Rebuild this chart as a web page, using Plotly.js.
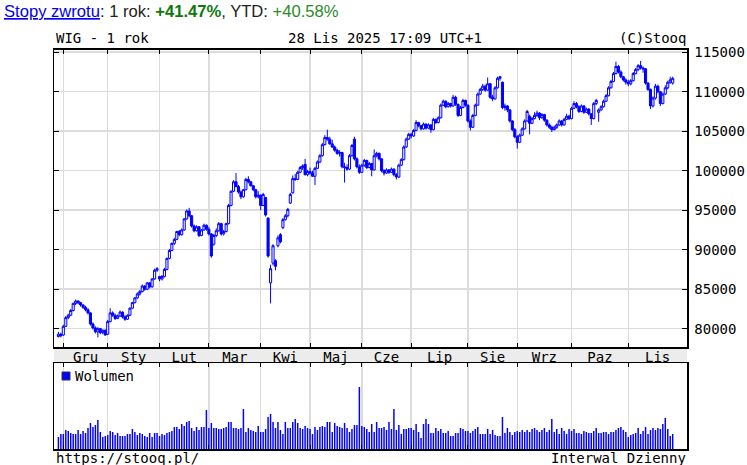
<!DOCTYPE html>
<html><head><meta charset="utf-8">
<script src="https://cdn.plot.ly/plotly-3.0.1.min.js"></script>
<style>html,body{margin:0;padding:0;background:#fff;}#chart{width:747px;height:465px;}</style>
</head><body><div id="chart"></div>
<script>
const monthLabels = ['Gru','Sty','Lut','Mar','Kwi','Maj','Cze','Lip','Sie','Wrz','Paz','Lis'];
const monthStartIdx = [2,20,41,61,82,102,123,143,166,186,208,231];
const priceTicks = [80000,85000,90000,95000,100000,105000,110000,115000];

const open = [
79000,79300,79200,80300,81400,81700,82300,83200,83500,83300,
83000,82700,82400,82000,80600,80100,79600,80000,79500,79800,
79300,80900,82000,81700,81300,81600,82100,81500,81200,81700,
82600,83300,83900,84400,84700,85400,85000,85800,85300,86300,
87400,86600,86300,86600,87500,88900,89900,90800,91300,92300,
91900,92500,93900,94900,94300,93000,92400,92900,91800,92500,
93100,92600,92000,90700,91800,92400,93300,92000,92300,93300,
95600,97400,98600,98000,97300,96700,97600,98900,98600,98100,
97600,96700,96900,95600,96600,94000,85800,88300,88600,90500,
91900,92800,93800,94300,95900,97200,99000,98900,99800,100400,
100800,99500,99900,99700,99300,100300,101100,101900,103300,104200,
104000,103400,103000,102600,102200,102300,100500,100400,100200,101900,
104000,101500,100500,99800,100700,101300,100400,100900,100100,101900,
102200,101500,100000,99700,100100,99800,100200,99500,99200,100700,
101400,103000,104000,104600,104400,105100,106100,105700,105300,105900,
105400,105800,105200,106500,106100,106700,108300,108800,108100,108500,
108200,109300,108400,107000,108000,108900,108300,106300,105500,107000,
108300,109700,110300,110700,110200,111000,109300,109100,110500,111700,
111200,108000,108200,107700,106300,105200,104300,103600,104500,105300,
106300,106900,106000,106600,107000,107300,106700,107100,106400,105800,
105500,105200,105500,105800,106300,105800,106500,106900,106600,107900,
108500,108100,107500,108200,107400,107800,107200,106600,108500,107400,
107700,108100,108800,109500,110500,111300,112300,113200,112500,111900,
111500,111200,111000,111400,112300,112800,113300,113000,112900,111100,
110300,108200,109200,110700,110000,108500,109700,110500,111200,111100];

const high = [
79600,79500,80500,81600,81900,82500,83300,83700,83600,83400,
83100,82900,82600,82100,80800,80300,80200,80100,79900,79900,
81100,82600,82200,81900,81800,82300,82200,81700,81800,82700,
83400,84000,84600,84900,85600,85500,85900,85900,86400,87600,
87800,86700,86800,87700,89000,90100,90900,91500,92400,92500,
92700,94000,95100,95300,94400,93200,93100,93000,92600,93300,
93200,92900,92100,92000,92700,93500,93400,92500,93400,95800,
97500,98800,99700,98200,97500,97700,99100,99300,98700,98200,
97700,97400,97000,97200,96700,94100,88100,90700,88800,91800,
92100,94000,94500,95300,97200,99400,99600,100000,100600,100800,
101500,100100,100400,100000,100500,101300,102100,103500,104500,105200,
104300,103900,103200,102800,102600,102400,101000,100800,102100,103400,
104300,101700,100800,100900,101500,101400,101100,101000,102700,102400,
102300,101600,100200,100300,100200,100400,100300,99700,100900,101600,
103200,104200,104800,104800,105300,106400,106200,105800,106100,106000,
106000,105900,106700,106600,106900,108500,109000,108900,108700,108600,
109600,109500,108500,108200,109100,109000,108400,106500,107200,108500,
109900,110500,111000,110900,111800,111100,109600,110700,111900,112000,
111300,108500,108300,107800,106400,105400,104500,104700,105500,106500,
107700,107100,106800,107400,107600,107400,107300,107200,106500,106000,
105700,105700,106000,106500,106400,106700,107200,107100,108100,108800,
108700,108300,108400,108300,108000,107900,107300,108700,109100,107900,
108300,109000,109700,110700,111500,112500,113800,113400,112700,112000,
111700,111500,111600,112500,113000,113500,113900,113200,113000,111200,
110400,109400,111000,110900,110100,109900,110800,111400,111900,111900];

const low = [
78900,78900,79100,80200,81200,81600,82200,83000,83100,82800,
82500,82200,81800,80400,79900,79400,78900,79300,79300,79100,
79200,80800,81500,81100,81200,81500,81300,81000,81100,81600,
82500,83200,83800,84200,84600,84800,84900,85100,85200,86200,
87200,86000,86100,86500,87400,88800,89800,90600,91200,91700,
91800,92400,93800,94100,92800,92200,92300,91600,91700,92400,
92400,91800,89000,90500,91600,92300,91800,91800,92200,93200,
95500,97300,97900,97100,96400,96600,97500,98400,98000,97400,
96500,96500,95000,95500,94200,89000,83200,88000,87400,90300,
90800,92600,93700,94100,95800,97100,98700,98800,99700,100100,
99400,99300,99500,99200,98200,100200,101000,101800,103200,103800,
103300,102900,102400,102000,101800,100300,98500,100000,100100,101800,
101300,100300,99600,99700,100500,100200,100300,99300,100000,101700,
101300,99800,99400,99600,99600,99700,99300,98900,99100,100600,
101300,102900,103900,104100,104300,105000,105500,105100,105200,105200,
105300,104800,105100,105900,106000,106600,108200,107900,108000,108000,
108100,108200,106800,106900,107900,108100,106100,105100,105400,106900,
108200,109600,110100,110000,110100,109100,108800,109000,110400,111400,
107800,107600,107400,106100,105000,104100,102800,103500,104400,105200,
106200,104600,105900,106500,106800,106400,106600,106200,105600,105300,
104900,105100,105300,105700,105600,105700,106400,106400,106500,107800,
107900,107300,107400,107200,107300,107000,105800,106500,108300,106200,
107600,108000,108700,109400,110400,111200,112200,112300,111700,111300,
110900,110700,110800,111300,112200,112600,112800,112400,110900,110100,
107800,108000,109000,109800,108200,108400,109600,110300,111000,110900];

const close = [
79300,79100,80300,81400,81700,82300,83200,83500,83300,83000,
82700,82400,82000,80600,80100,79600,80000,79500,79800,79200,
80900,82000,81700,81300,81600,82100,81500,81200,81700,82600,
83300,83900,84400,84700,85400,85000,85800,85300,86300,87400,
87600,86300,86600,87500,88900,89900,90800,91300,92300,91900,
92500,93900,94900,94300,93000,92400,92900,91800,92500,93100,
92600,92000,89200,91800,92400,93300,92000,92300,93300,95600,
97400,98600,98000,97300,96700,97600,98900,98600,98100,97600,
96700,96900,95600,97000,94400,89200,87600,90500,87900,91500,
91000,93800,94300,95100,97000,99000,98900,99800,100400,100600,
99500,99900,99700,99300,100300,101100,101900,103300,104200,104000,
103400,103000,102600,102200,102300,100500,100400,100200,101900,103200,
101500,100500,99800,100700,101300,100400,100900,100100,101900,102200,
101500,100000,99700,100100,99800,100200,99500,99200,100700,101400,
103000,104000,104600,104400,105100,106100,105700,105300,105900,105400,
105800,105200,106500,106100,106700,108300,108800,108100,108500,108200,
109300,108400,107000,108000,108900,108300,106300,105500,107000,108300,
109700,110300,110700,110200,111000,109300,109100,110500,111700,111900,
108000,108200,107700,106300,105200,104300,103600,104500,105300,106300,
107500,106000,106600,107000,107300,106700,107100,106400,105800,105500,
105200,105500,105800,106300,105800,106500,106900,106600,107900,108500,
108100,107500,108200,107400,107800,107200,106600,108500,108900,107700,
108100,108800,109500,110500,111300,112300,113200,112500,111900,111500,
111200,111000,111400,112300,112800,113300,113000,112900,111100,110300,
108200,109200,110700,110000,108500,109700,110500,111200,111500,111700];

const volume = [
12,15,15,19,18,16,15,15,19,15,
18,16,21,26,22,24,29,17,12,13,
14,18,17,14,16,13,13,13,15,15,
20,17,14,16,15,13,12,16,12,16,
16,13,15,14,16,17,18,22,22,20,
25,23,27,28,21,18,22,19,22,22,
39,21,26,21,21,20,20,21,22,27,
27,21,21,20,21,40,17,21,19,18,
17,23,17,17,20,32,35,27,21,27,
19,15,27,21,21,27,30,26,21,20,
23,21,20,15,22,19,22,23,22,27,
27,17,26,23,22,21,26,21,17,20,
24,24,62,23,22,20,17,25,17,27,
21,21,22,19,27,20,40,19,24,15,
20,20,21,21,19,25,17,11,25,30,
25,16,16,21,18,20,16,16,18,13,
13,16,16,21,20,18,18,16,18,20,
22,15,15,15,20,15,19,14,13,13,
32,16,21,17,14,17,18,17,19,17,
19,17,20,21,19,17,19,21,17,19,
30,17,20,15,21,18,15,20,18,20,
16,16,15,18,17,16,16,18,21,16,
16,17,17,15,17,17,19,21,22,19,
17,12,14,15,16,21,15,18,22,15,
19,21,19,21,20,25,31,20,13,15];

const dayIdx = close.map((_, i) => i);

const W = 747, H = 465;
const px = v => v / W;
const py = v => 1 - v / H;
const xRange = [-1.78, 254.8];
const monthMid = monthStartIdx.map((s, k) =>
  (s + (k + 1 < monthStartIdx.length ? monthStartIdx[k + 1] : xRange[1])) / 2);

const MONO = 'DejaVu Sans Mono';
const BLUE = '#0000ff';
const GRID = '#dcdcdc';

const traces = [
  {
    type: 'candlestick', x: dayIdx, open: open, high: high, low: low, close: close,
    xaxis: 'x', yaxis: 'y', whiskerwidth: 0, showlegend: false, hoverinfo: 'skip',
    increasing: {line: {color: BLUE, width: 1}, fillcolor: '#ffffff'},
    decreasing: {line: {color: BLUE, width: 1}, fillcolor: BLUE}
  },
  {
    type: 'bar', x: dayIdx, y: volume, xaxis: 'x2', yaxis: 'y2', name: 'Wolumen',
    width: 0.6, marker: {color: BLUE, line: {width: 0}}, showlegend: false, hoverinfo: 'skip'
  },
  { type: 'scatter', x: [], y: [], xaxis: 'x3', yaxis: 'y', showlegend: false, hoverinfo: 'skip' }
];

const frame = {showline: true, linecolor: '#000', linewidth: 1.5, zeroline: false, fixedrange: true};

const layout = {
  width: W, height: H,
  margin: {l: 0, r: 0, t: 0, b: 0},
  paper_bgcolor: '#ffffff', plot_bgcolor: '#ffffff',
  showlegend: false,
  boxgap: 0.15, boxgroupgap: 0,
  xaxis: Object.assign({}, frame, {
    domain: [px(54), px(687)], anchor: 'y', range: xRange, type: 'linear',
    tickmode: 'array', tickvals: monthStartIdx, showticklabels: false,
    ticks: 'inside', ticklen: 4, tickwidth: 1, tickcolor: '#000', mirror: 'ticks',
    showgrid: true, gridcolor: GRID, gridwidth: 1.5,
    rangeslider: {visible: false}
  }),
  xaxis3: {
    overlaying: 'x', anchor: 'y', side: 'bottom', range: xRange, type: 'linear',
    tickmode: 'array', tickvals: monthMid, ticktext: monthLabels,
    ticks: '', showgrid: false, showline: false, zeroline: false, fixedrange: true,
    tickfont: {family: MONO, size: 14, color: '#000'}, ticklabelstandoff: 0
  },
  yaxis: Object.assign({}, frame, {
    domain: [py(347.3), py(49.5)], anchor: 'x', range: [77645, 115347], side: 'right',
    tickmode: 'array', tickvals: priceTicks, ticktext: priceTicks.map(String),
    ticks: 'inside', ticklen: 5, tickwidth: 1, tickcolor: '#000', mirror: 'ticks',
    showgrid: true, gridcolor: GRID, gridwidth: 1.5,
    tickfont: {family: MONO, size: 14, color: '#000'}, ticklabelstandoff: 3
  }),
  xaxis2: Object.assign({}, frame, {
    domain: [px(54), px(687)], anchor: 'y2', range: xRange, type: 'linear',
    tickmode: 'array', tickvals: monthStartIdx, showticklabels: false,
    ticks: 'inside', ticklen: 4, tickwidth: 1, tickcolor: '#000', mirror: 'ticks',
    showgrid: true, gridcolor: GRID, gridwidth: 1.5
  }),
  yaxis2: Object.assign({}, frame, {
    domain: [py(449), py(363.3)], anchor: 'x2', range: [0, 85.7],
    showticklabels: false, ticks: '', showgrid: false, mirror: true
  }),
  shapes: [
    {type: 'rect', xref: 'paper', yref: 'paper', x0: px(54), x1: px(687), y0: py(363.3), y1: py(347.3),
     fillcolor: '#ececec', line: {width: 0}, layer: 'below'},
    {type: 'rect', xref: 'paper', yref: 'paper', x0: px(62), x1: px(70), y0: py(380), y1: py(372),
     fillcolor: BLUE, line: {color: '#333', width: 1}}
  ],
  annotations: [
    {xref: 'paper', yref: 'paper', x: px(2), y: py(11), xanchor: 'left', yanchor: 'middle', showarrow: false,
     font: {family: 'Liberation Sans', size: 16.6, color: '#222'},
     text: '<span style="color:#0000ee;text-decoration:underline">Stopy zwrotu</span>: 1 rok: <b><span style="color:#0b7a0b">+41.47%</span></b>, YTD: <span style="color:#2a8a2a">+40.58%</span>'},
    {xref: 'paper', yref: 'paper', x: px(54), y: py(38.5), xanchor: 'left', yanchor: 'middle', showarrow: false,
     font: {family: MONO, size: 14, color: '#000'}, text: 'WIG - 1 rok'},
    {xref: 'paper', yref: 'paper', x: px(385), y: py(38.5), xanchor: 'center', yanchor: 'middle', showarrow: false,
     font: {family: MONO, size: 14, color: '#000'}, text: '28 Lis 2025 17:09 UTC+1'},
    {xref: 'paper', yref: 'paper', x: px(688), y: py(38.5), xanchor: 'right', yanchor: 'middle', showarrow: false,
     font: {family: MONO, size: 14, color: '#000'}, text: '(C)Stooq'},
    {xref: 'paper', yref: 'paper', x: px(73), y: py(375.5), xanchor: 'left', yanchor: 'middle', showarrow: false,
     font: {family: MONO, size: 14, color: '#000'}, text: 'Wolumen'},
    {xref: 'paper', yref: 'paper', x: px(54), y: py(458), xanchor: 'left', yanchor: 'middle', showarrow: false,
     font: {family: MONO, size: 14, color: '#000'}, text: 'https://stooq.pl/'},
    {xref: 'paper', yref: 'paper', x: px(688), y: py(458), xanchor: 'right', yanchor: 'middle', showarrow: false,
     font: {family: MONO, size: 14, color: '#000'}, text: 'Interwal Dzienny'}
  ]
};

Plotly.newPlot('chart', traces, layout, {staticPlot: true, displayModeBar: false});
</script>
</body></html>
